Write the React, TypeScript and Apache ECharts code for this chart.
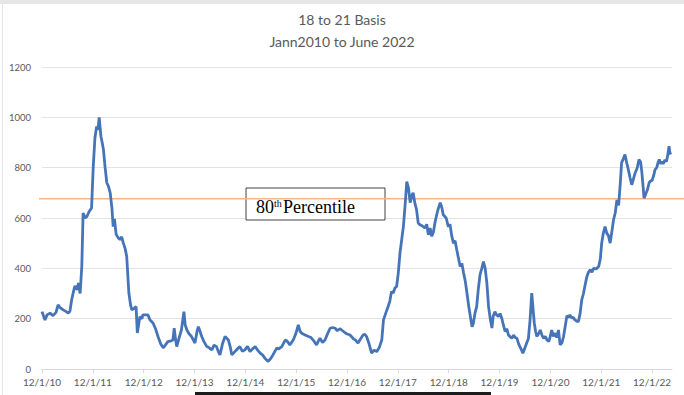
import React, { useEffect, useRef } from "react";
import * as echarts from "echarts";

// Months elapsed since 12/1/10 (x position of each reading)
const monthsSinceDec2010 = [
  0.0, 0.7, 1.2, 1.9, 2.6, 3.3, 3.8, 4.2, 5.0, 5.7, 6.2, 6.6, 7.0, 7.6, 7.8, 8.3, 8.6, 9.0, 9.4, 9.7,
  10.2, 10.6, 11.1, 11.7, 12.1, 12.5, 12.9, 13.2, 13.5, 13.9, 14.2, 14.5, 14.9, 15.3, 15.7, 16.1, 16.5, 16.8, 17.1, 17.5,
  18.0, 18.4, 18.8, 19.2, 19.6, 20.0, 20.3, 20.5, 20.9, 21.2, 21.7, 22.2, 22.5, 22.8, 23.1, 23.6, 23.8, 24.3, 25.0, 25.5,
  26.2, 26.8, 27.4, 28.0, 28.6, 29.1, 29.7, 30.5, 30.9, 31.2, 31.5, 31.8, 32.3, 32.9, 33.5, 33.8, 34.2, 34.7, 35.3, 36.1,
  36.6, 36.9, 37.3, 37.7, 38.2, 38.9, 39.4, 40.1, 40.6, 41.2, 41.6, 42.0, 42.6, 43.2, 44.0, 44.4, 44.8, 45.3, 45.9, 46.7,
  47.3, 47.9, 48.5, 49.1, 49.7, 50.3, 50.9, 51.5, 52.1, 52.6, 53.4, 53.9, 54.5, 55.4, 55.9, 56.6, 57.4, 57.9, 58.5, 59.3,
  59.9, 60.5, 60.9, 61.3, 62.1, 62.9, 63.5, 64.0, 64.8, 65.2, 65.6, 66.2, 66.8, 67.4, 68.0, 68.6, 69.2, 69.7, 70.3, 71.1,
  71.9, 72.7, 73.4, 74.0, 74.6, 75.2, 75.8, 76.2, 76.6, 77.2, 77.8, 78.4, 79.0, 79.6, 80.2, 80.6, 81.2, 81.7, 82.1, 82.5,
  82.9, 83.3, 83.7, 84.1, 84.5, 85.3, 85.7, 86.1, 86.5, 86.9, 87.3, 87.6, 88.0, 88.4, 88.8, 89.2, 89.8, 90.4, 90.8, 91.2,
  91.6, 92.0, 92.4, 92.8, 93.4, 94.0, 94.4, 94.7, 95.4, 95.9, 96.3, 96.7, 97.1, 97.5, 97.9, 98.3, 98.7, 99.1, 99.5, 99.9,
  100.3, 100.8, 101.5, 101.8, 102.2, 102.6, 103.0, 103.4, 103.8, 104.2, 104.6, 105.0, 105.4, 105.8, 106.2, 106.5, 106.9, 107.3, 107.7, 108.1,
  108.5, 108.9, 109.3, 109.7, 110.1, 110.5, 110.9, 111.3, 111.7, 112.1, 112.5, 112.8, 113.2, 113.5, 113.9, 114.4, 114.8, 115.2, 115.6, 115.9,
  116.2, 116.5, 116.8, 117.2, 117.6, 118.0, 118.4, 118.8, 119.2, 119.6, 119.9, 120.3, 120.7, 121.1, 121.5, 121.9, 122.3, 122.7, 123.1, 123.5,
  123.9, 124.3, 124.6, 125.0, 125.4, 125.8, 126.2, 126.6, 127.0, 127.4, 127.8, 128.2, 128.6, 129.0, 129.4, 129.8, 130.2, 130.8, 131.4, 131.8,
  132.1, 132.5, 132.9, 133.3, 133.7, 134.1, 134.5, 134.9, 135.3, 135.7, 136.1, 136.5, 136.8, 137.2, 137.6, 138.0, 138.4, 138.8, 139.2, 139.6,
  140.0, 140.5, 140.9, 141.3, 141.6, 141.9, 142.1, 142.5, 142.9, 143.3, 143.6, 144.0, 144.4, 144.7, 145.1, 145.4, 145.7, 146.1, 146.4, 146.6,
  147.0, 147.4, 147.7, 148.0, 148.2, 148.4,
];

// 18 to 21 basis readings
const basisValues = [
  228, 195, 215, 222, 212, 225, 255, 245, 235, 228, 222, 230, 275, 320, 330, 315, 342, 300, 410, 620,
  600, 606, 625, 640, 805, 920, 964, 950, 1000, 925, 900, 872, 800, 740, 725, 700, 640, 566, 596, 535,
  521, 515, 525, 500, 480, 447, 360, 302, 255, 235, 240, 248, 143, 175, 208, 200, 215, 215, 215, 195,
  183, 160, 128, 100, 84, 95, 109, 112, 115, 162, 120, 89, 120, 155, 228, 175, 155, 140, 129, 103,
  150, 168, 150, 129, 110, 89, 85, 76, 95, 89, 70, 56, 100, 129, 115, 90, 56, 65, 76, 89,
  70, 76, 90, 69, 80, 89, 75, 63, 55, 43, 30, 40, 56, 83, 80, 89, 115, 110, 96, 115,
  140, 175, 150, 142, 135, 129, 125, 115, 96, 110, 122, 105, 115, 140, 162, 165, 162, 152, 160, 150,
  140, 135, 122, 115, 103, 120, 135, 138, 129, 100, 63, 75, 69, 85, 115, 195, 225, 248, 270, 308,
  302, 322, 328, 382, 462, 566, 650, 745, 720, 661, 690, 700, 660, 633, 580, 573, 568, 561, 575, 533,
  560, 527, 545, 586, 630, 661, 640, 613, 600, 566, 575, 530, 500, 510, 474, 440, 407, 420, 382, 350,
  302, 240, 168, 180, 222, 248, 320, 375, 400, 427, 400, 342, 248, 200, 163, 210, 228, 215, 208, 220,
  203, 175, 149, 160, 135, 128, 122, 135, 125, 122, 100, 89, 75, 63, 80, 103, 120, 195, 302, 240,
  182, 150, 129, 140, 155, 135, 122, 130, 115, 109, 125, 155, 130, 142, 125, 155, 96, 103, 129, 170,
  212, 205, 215, 203, 205, 195, 190, 188, 220, 275, 300, 335, 367, 385, 394, 385, 400, 398, 407, 440,
  500, 540, 566, 540, 530, 500, 545, 593, 620, 672, 650, 739, 819, 835, 852, 820, 792, 760, 732, 755,
  779, 800, 832, 822, 779, 720, 679, 695, 712, 740, 746, 750, 770, 792, 800, 820, 832, 815, 825, 815,
  830, 825, 850, 885, 860, 852,
];

const percentile80 = 676;
const xTickMonths = [0, 12, 24, 36, 48, 60, 72, 84, 96, 108, 120, 132, 144];
const xTickLabels = [
  "12/1/10", "12/1/11", "12/1/12", "12/1/13", "12/1/14", "12/1/15", "12/1/16",
  "12/1/17", "12/1/18", "12/1/19", "12/1/20", "12/1/21", "12/1/22",
];
const titleLines = ["18 to 21 Basis", "Jann2010 to June 2022"];
const percentileLabel = { base: "80", sup: "th", rest: "Percentile" };

export default function App() {
  const ref = useRef<HTMLDivElement>(null);

  useEffect(() => {
    if (!ref.current) return;
    const chart = echarts.init(ref.current, undefined, { renderer: "svg" });
    const data = monthsSinceDec2010.map((m, i) => [m, basisValues[i]]);
    const font = "Lato, 'Open Sans', sans-serif";
    const serif = "'Liberation Serif', 'DejaVu Serif', serif";

    chart.setOption({
      animation: false,
      backgroundColor: "#ffffff",
      title: {
        text: titleLines.join("\n"),
        left: "center",
        top: 3,
        textStyle: {
          fontFamily: font,
          fontSize: 14,
          fontWeight: "normal",
          color: "#595959",
          lineHeight: 22,
        },
      },
      grid: { left: 42, right: 12, top: 67, bottom: 26, containLabel: false },
      xAxis: {
        type: "value",
        min: 0,
        max: 148.7,
        interval: 12,
        axisLine: { show: true, lineStyle: { color: "#d9d9d9", width: 1 } },
        axisTick: {
          show: true,
          length: 4,
          customValues: xTickMonths,
          lineStyle: { color: "#d9d9d9" },
        },
        axisLabel: {
          customValues: xTickMonths,
          formatter: (v: number) => xTickLabels[xTickMonths.indexOf(Math.round(v))] ?? "",
          fontFamily: font,
          fontSize: 10,
          color: "#595959",
          margin: 8,
        },
        splitLine: { show: false },
      },
      yAxis: {
        type: "value",
        min: 0,
        max: 1200,
        interval: 200,
        axisLine: { show: false },
        axisTick: { show: false },
        axisLabel: {
          formatter: (v: number) => String(v),
          fontFamily: font,
          fontSize: 9.5,
          color: "#595959",
          margin: 11,
        },
        splitLine: { show: true, lineStyle: { color: "#e3e3e3", width: 1 } },
      },
      series: [
        {
          type: "line",
          data,
          showSymbol: false,
          symbol: "none",
          lineStyle: { color: "#4674b8", width: 2.8 },
          z: 3,
        },
      ],
    });

    const yLine = chart.convertToPixel({ yAxisIndex: 0 }, percentile80) as number;
    const width = chart.getWidth();
    const height = chart.getHeight();

    chart.setOption({
      graphic: [
        {
          type: "rect",
          shape: { x: 0, y: 0, width, height: 4 },
          style: { fill: "#e6e6e6" },
          z: 10,
        },
        {
          type: "line",
          shape: { x1: 2.5, y1: 4, x2: 2.5, y2: height },
          style: { stroke: "#e6e6e6", lineWidth: 1 },
          z: 10,
        },
        {
          type: "line",
          shape: { x1: 39, y1: yLine, x2: width, y2: yLine },
          style: { stroke: "#f5b48c", lineWidth: 1.5 },
          z: 2,
        },
        {
          type: "group",
          x: 246,
          y: 188,
          z: 20,
          children: [
            {
              type: "rect",
              shape: { x: 0, y: 0, width: 139, height: 32 },
              style: { fill: "#ffffff", stroke: "#404040", lineWidth: 1 },
            },
            {
              type: "text",
              x: 10,
              y: 18.5,
              style: {
                text: percentileLabel.base,
                fontFamily: serif,
                fontSize: 18,
                fill: "#000000",
                verticalAlign: "middle",
              },
            },
            {
              type: "text",
              x: 28,
              y: 15,
              style: {
                text: percentileLabel.sup,
                fontFamily: serif,
                fontSize: 10,
                fill: "#000000",
                verticalAlign: "middle",
              },
            },
            {
              type: "text",
              x: 37,
              y: 18.5,
              style: {
                text: percentileLabel.rest,
                fontFamily: serif,
                fontSize: 18,
                fill: "#000000",
                verticalAlign: "middle",
              },
            },
          ],
        },
        {
          type: "rect",
          shape: { x: 195, y: 392, width: 296, height: 3 },
          style: { fill: "#1c1c1c" },
          z: 20,
        },
      ],
    });

    return () => chart.dispose();
  }, []);

  return (
    <div
      ref={ref}
      style={{ position: "absolute", left: 0, top: 0, width: 684, height: 395 }}
    />
  );
}
